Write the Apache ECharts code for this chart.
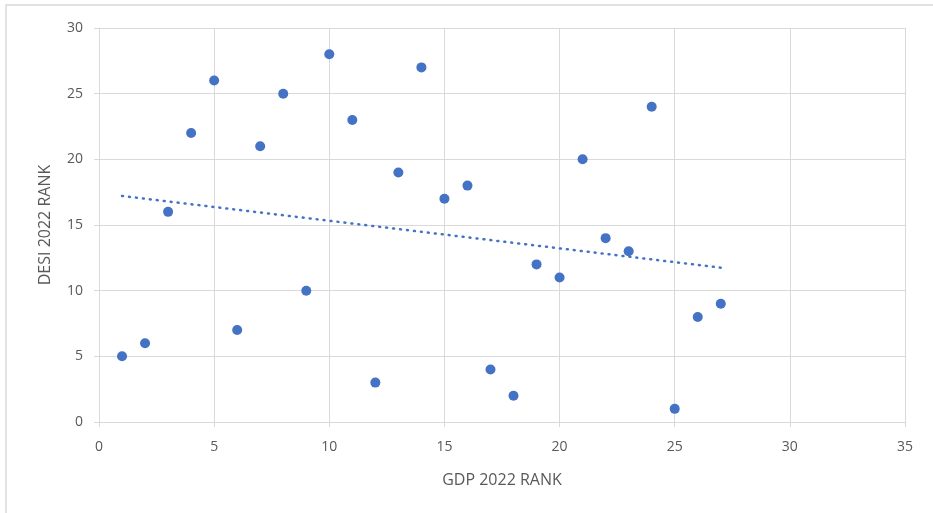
<!DOCTYPE html>
<html>
<head>
<meta charset="utf-8">
<script src="https://cdn.jsdelivr.net/npm/echarts@6/dist/echarts.min.js"></script>
<style>
  html, body { margin: 0; padding: 0; background: #fff; }
  #chart { width: 933px; height: 513px; }
</style>
</head>
<body>
<div id="chart"></div>
<script>
// GDP 2022 rank vs DESI 2022 rank
const gdpRank = [1, 2, 3, 4, 5, 6, 7, 8, 9, 10, 11, 12, 13, 14, 15, 16, 17, 18, 19, 20, 21, 22, 23, 24, 25, 26, 27];
const desiRank = [5, 6, 16, 22, 26, 7, 21, 25, 10, 28, 23, 3, 19, 27, 17, 18, 4, 2, 12, 11, 20, 14, 13, 24, 1, 8, 9];
const xTicks = [0, 5, 10, 15, 20, 25, 30, 35];
const yTicks = [0, 5, 10, 15, 20, 25, 30];

// linear trendline (least squares) from the points
function trend(xs, ys) {
  let n = xs.length, sx = 0, sy = 0, sxy = 0, sxx = 0;
  for (let i = 0; i < n; i++) {
    sx += xs[i]; sy += ys[i]; sxy += xs[i] * ys[i]; sxx += xs[i] * xs[i];
  }
  let b = (n * sxy - sx * sy) / (n * sxx - sx * sx);
  let a = (sy - b * sx) / n;
  let x1 = Math.min(...xs), x2 = Math.max(...xs);
  return [[x1, a + b * x1], [x2, a + b * x2]];
}

const points = gdpRank.map((x, i) => [x, desiRank[i]]);
const textColor = '#595959';
const gridColor = '#d9d9d9';

var chart = echarts.init(document.getElementById('chart'));
chart.setOption({
  animation: false,
  textStyle: { fontFamily: 'Open Sans' },
  graphic: [{
    type: 'rect',
    shape: { x: 6, y: 5, width: 940, height: 520 },
    style: { fill: 'none', stroke: '#d9d9d9', lineWidth: 1.5 },
    silent: true
  }],
  grid: { left: 99, right: 28, top: 28, bottom: 91 },
  xAxis: {
    type: 'value',
    min: xTicks[0], max: xTicks[xTicks.length - 1], interval: 5,
    name: 'GDP 2022 RANK',
    nameLocation: 'middle',
    nameGap: 50,
    nameTextStyle: { color: textColor, fontSize: 16 },
    axisLine: { show: true, lineStyle: { color: gridColor } },
    axisTick: { show: true, length: 5, lineStyle: { color: gridColor } },
    axisLabel: { color: textColor, fontSize: 14, margin: 18 },
    splitLine: { show: true, lineStyle: { color: gridColor } }
  },
  yAxis: {
    type: 'value',
    min: yTicks[0], max: yTicks[yTicks.length - 1], interval: 5,
    name: 'DESI 2022 RANK',
    nameLocation: 'middle',
    nameGap: 46,
    nameTextStyle: { color: textColor, fontSize: 16 },
    axisLine: { show: true, lineStyle: { color: gridColor } },
    axisTick: { show: true, length: 5, lineStyle: { color: gridColor } },
    axisLabel: { color: textColor, fontSize: 14, margin: 16 },
    splitLine: { show: true, lineStyle: { color: gridColor } }
  },
  series: [{
    type: 'scatter',
    data: points,
    symbolSize: 10,
    itemStyle: { color: '#4472C4', opacity: 1 },
    z: 3
  }, {
    type: 'line',
    data: trend(gdpRank, desiRank),
    symbol: 'none',
    lineStyle: { color: '#4472C4', width: 2.5, type: [1, 6], cap: 'round' },
    z: 2
  }]
});
</script>
</body>
</html>
